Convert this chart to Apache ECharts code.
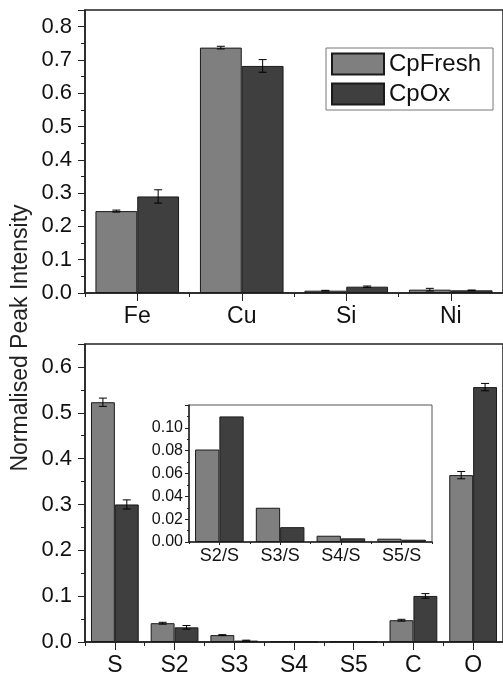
<!DOCTYPE html>
<html>
<head>
<meta charset="utf-8">
<script src="https://cdn.jsdelivr.net/npm/echarts@6/dist/echarts.min.js"></script>
<style>
  html, body { margin: 0; padding: 0; background: #fff; }
  #chart { width: 503px; height: 677px; }
</style>
</head>
<body>
<div id="chart"></div>
<script>
// top panel: metals
var metals = ['Fe', 'Cu', 'Si', 'Ni'];
var metalFresh = [0.246, 0.737, 0.007, 0.010];
var metalFreshErr = [0.003, 0.004, 0.001, 0.004];
var metalOx = [0.290, 0.682, 0.019, 0.008];
var metalOxErr = [0.020, 0.019, 0.002, 0.001];

// bottom panel: S, C, O peaks
var peaks = ['S', 'S2', 'S3', 'S4', 'S5', 'C', 'O'];
var peakFresh = [0.523, 0.041, 0.015, 0.002, 0.001, 0.0475, 0.364];
var peakFreshErr = [0.009, 0.002, 0.001, 0, 0, 0.002, 0.008];
var peakOx = [0.300, 0.032, 0.003, 0.0006, 0.0005, 0.1005, 0.556];
var peakOxErr = [0.010, 0.004, 0.001, 0, 0, 0.005, 0.008];

// inset: ratios to S
var ratios = ['S2/S', 'S3/S', 'S4/S', 'S5/S'];
var ratioFresh = [0.081, 0.030, 0.0055, 0.0029];
var ratioOx = [0.110, 0.013, 0.0032, 0.0020];

var FONT = '"Liberation Sans", Arial, sans-serif';
var INK = '#111';
var FRESH = '#7f7f7f';
var OX = '#3f3f3f';

var chart = echarts.init(document.getElementById('chart'));

function errorBars(idx, vals, errs, side)
{
    return {
	type: 'custom',
	xAxisIndex: idx,
	yAxisIndex: idx,
	z: 10,
	silent: true,
	data: vals.map((v, i) => [i, v, errs[i]]),
	renderItem: function (params, api) {
	    var x = api.value(0), v = api.value(1), e = api.value(2);
	    if (!e) return null;
	    var band = api.size([1, 0])[0];
	    var cx = api.coord([x, v])[0] + side * band * 0.2;
	    var top = api.coord([x, v + e])[1];
	    var bot = api.coord([x, v - e])[1];
	    var st = {stroke: '#000', lineWidth: 1};
	    return {
		type: 'group',
		children: [
		    {type: 'line', shape: {x1: cx, y1: top, x2: cx, y2: bot}, style: st},
		    {type: 'line', shape: {x1: cx - 4, y1: top, x2: cx + 4, y2: top}, style: st},
		    {type: 'line', shape: {x1: cx - 4, y1: bot, x2: cx + 4, y2: bot}, style: st}
		]
	    };
	}
    };
}

function bar(name, idx, data, color)
{
    return {
	name: name,
	type: 'bar',
	xAxisIndex: idx,
	yAxisIndex: idx,
	data: data,
	barGap: '0%',
	barCategoryGap: '20%',
	itemStyle: {color: color, borderColor: '#1a1a1a', borderWidth: 1}
    };
}

function yAxis(idx, max, interval, digits, fs, tickLen, margin)
{
    return {
	type: 'value',
	gridIndex: idx,
	min: 0,
	max: max,
	interval: interval,
	splitLine: {show: false},
	axisLine: {show: true, lineStyle: {color: '#222', width: 1.5}},
	axisTick: {show: true, length: tickLen, lineStyle: {color: '#222'}},
	minorTick: {show: true, splitNumber: 2, length: Math.round(tickLen * 0.5), lineStyle: {color: '#222'}},
	axisLabel: {
	    showMaxLabel: false,
	    margin: margin,
	    color: INK,
	    fontFamily: FONT,
	    fontSize: fs,
	    formatter: (v) => v.toFixed(digits)
	}
    };
}

// boundary ticks are the short ones
function xAxis(idx, cats, fs, margin, tickLen)
{
    return {
	type: 'category',
	gridIndex: idx,
	data: cats,
	axisLine: {show: true, lineStyle: {color: '#222', width: 1.5}},
	axisTick: {show: true, length: tickLen, lineStyle: {color: '#222'}},
	axisLabel: {color: INK, fontFamily: FONT, fontSize: fs, margin: margin}
    };
}

// second category axis only for the longer ticks under each label
function centreTicks(idx, cats, tickLen)
{
    return {
	type: 'category',
	gridIndex: idx,
	data: cats,
	position: 'bottom',
	axisLine: {show: false},
	axisLabel: {show: false},
	axisTick: {show: true, alignWithLabel: true, length: tickLen, lineStyle: {color: '#222'}}
    };
}

chart.setOption({
    animation: false,
    backgroundColor: '#fff',
    grid: [
	{left: 85, top: 10, right: -6, height: 283, show: true, borderColor: '#222', borderWidth: 1.5},
	{left: 85, top: 344, right: -8, height: 300, show: true, borderColor: '#222', borderWidth: 1.5},
	{left: 189, top: 405, width: 243, height: 137, show: true, borderColor: '#555', borderWidth: 1}
    ],
    legend: {
	data: ['CpFresh', 'CpOx'],
	orient: 'vertical',
	left: 326,
	top: 48,
	icon: 'rect',
	itemWidth: 52,
	itemHeight: 21,
	itemGap: 6,
	padding: [4, 12, 4, 5],
	borderColor: '#777',
	borderWidth: 1,
	textStyle: {fontFamily: FONT, fontSize: 24, color: INK, lineHeight: 23}
    },
    xAxis: [
	xAxis(0, metals, 23, 12, 4),
	xAxis(1, peaks, 23, 12, 4),
	xAxis(2, ratios, 18, 5, 2),
	centreTicks(0, metals, 8),
	centreTicks(1, peaks, 8),
	centreTicks(2, ratios, 3)
    ],
    yAxis: [
	yAxis(0, 0.85, 0.1, 1, 22, 7, 13),
	yAxis(1, 0.65, 0.1, 1, 22, 7, 13),
	yAxis(2, 0.12, 0.02, 2, 16, 4, 6)
    ],
    graphic: [{
	type: 'text',
	x: 21,
	y: 338,
	rotation: Math.PI / 2,
	style: {
	    text: 'Normalised Peak Intensity',
	    fontFamily: FONT,
	    fontSize: 23,
	    fill: '#222',
	    align: 'center',
	    verticalAlign: 'middle'
	}
    }],
    series: [
	bar('CpFresh', 0, metalFresh, FRESH),
	bar('CpOx', 0, metalOx, OX),
	errorBars(0, metalFresh, metalFreshErr, -1),
	errorBars(0, metalOx, metalOxErr, 1),
	bar('CpFresh', 1, peakFresh, FRESH),
	bar('CpOx', 1, peakOx, OX),
	errorBars(1, peakFresh, peakFreshErr, -1),
	errorBars(1, peakOx, peakOxErr, 1),
	bar('CpFresh', 2, ratioFresh, FRESH),
	bar('CpOx', 2, ratioOx, OX)
    ]
});
</script>
</body>
</html>
